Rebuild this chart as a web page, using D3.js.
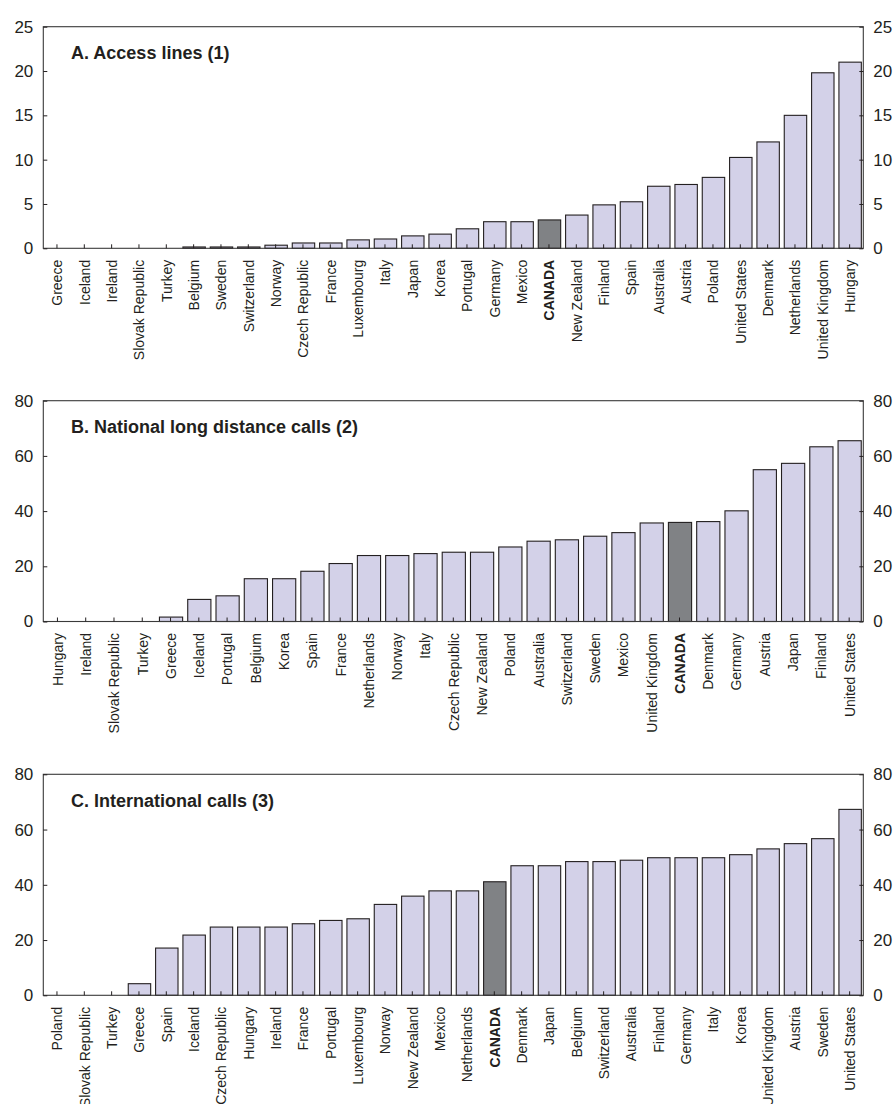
<!DOCTYPE html>
<html>
<head>
<meta charset="utf-8">
<script src="https://cdn.jsdelivr.net/npm/d3@7"></script>
<style>
  html, body { margin: 0; padding: 0; background: #fff; }
  svg { display: block; font-family: "Liberation Sans", Arial, sans-serif; }
</style>
</head>
<body>
<svg id="chart" width="896" height="1104"></svg>
<script>
// Panel A: access lines
const accessCountries = ["Greece","Iceland","Ireland","Slovak Republic","Turkey","Belgium","Sweden","Switzerland","Norway","Czech Republic","France","Luxembourg","Italy","Japan","Korea","Portugal","Germany","Mexico","CANADA","New Zealand","Finland","Spain","Australia","Austria","Poland","United States","Denmark","Netherlands","United Kingdom","Hungary"];
const accessValues = [0,0,0,0,0,0.15,0.15,0.15,0.35,0.6,0.6,0.95,1.05,1.4,1.6,2.2,3.0,3.0,3.2,3.75,4.9,5.25,7.0,7.2,8.0,10.25,12.0,15.0,19.8,21.0];
const accessTicks = [0,5,10,15,20,25];

// Panel B: national long distance calls
const nationalCountries = ["Hungary","Ireland","Slovak Republic","Turkey","Greece","Iceland","Portugal","Belgium","Korea","Spain","France","Netherlands","Norway","Italy","Czech Republic","New Zealand","Poland","Australia","Switzerland","Sweden","Mexico","United Kingdom","CANADA","Denmark","Germany","Austria","Japan","Finland","United States"];
const nationalValues = [0,0,0,0,1.6,8.0,9.3,15.5,15.5,18.2,21.0,23.9,23.9,24.6,25.1,25.1,27.0,29.1,29.6,30.9,32.2,35.7,35.9,36.2,40.1,55.0,57.3,63.3,65.5];
const nationalTicks = [0,20,40,60,80];

// Panel C: international calls
const internationalCountries = ["Poland","Slovak Republic","Turkey","Greece","Spain","Iceland","Czech Republic","Hungary","Ireland","France","Portugal","Luxembourg","Norway","New Zealand","Mexico","Netherlands","CANADA","Denmark","Japan","Belgium","Switzerland","Australia","Finland","Germany","Italy","Korea","United Kingdom","Austria","Sweden","United States"];
const internationalValues = [0,0,0,4.2,17.1,21.8,24.7,24.7,24.7,25.9,27.1,27.7,32.9,35.9,37.8,37.8,41.1,46.9,46.9,48.4,48.4,48.9,49.8,49.8,49.8,50.9,53.0,54.9,56.7,67.3];
const internationalTicks = [0,20,40,60,80];

const panelTitles = ["A. Access lines (1)", "B. National long distance calls (2)", "C. International calls (3)"];
const highlight = "CANADA";

const panels = [
  { title: panelTitles[0], countries: accessCountries, values: accessValues, ticks: accessTicks, top: 26.7, bottom: 248.3 },
  { title: panelTitles[1], countries: nationalCountries, values: nationalValues, ticks: nationalTicks, top: 400.7, bottom: 621.5 },
  { title: panelTitles[2], countries: internationalCountries, values: internationalValues, ticks: internationalTicks, top: 774.3, bottom: 995.3 }
];

const left = 43.3, right = 863.3;
const ink = "#231f20";
const svg = d3.select("#chart");

panels.forEach(p => {
  const g = svg.append("g");
  const x = d3.scaleBand().domain(p.countries).range([left, right]).paddingInner(0.18).paddingOuter(0.09);
  const y = d3.scaleLinear().domain([0, d3.max(p.ticks)]).range([p.bottom, p.top]);
  const data = p.countries.map((c, i) => ({ c, v: p.values[i] }));

  // bars
  g.selectAll("rect.bar").data(data.filter(d => d.v > 0)).join("rect")
    .attr("class", "bar")
    .attr("x", d => x(d.c) + 0.5)
    .attr("width", x.bandwidth())
    .attr("y", d => y(d.v))
    .attr("height", d => y(0) - y(d.v))
    .attr("fill", d => d.c === highlight ? "#808285" : "#d3d1e8")
    .attr("stroke", ink)
    .attr("stroke-width", 1.1);

  // frame
  g.append("rect")
    .attr("x", left).attr("y", p.top)
    .attr("width", right - left).attr("height", p.bottom - p.top)
    .attr("fill", "none").attr("stroke", "#3a3a3a").attr("stroke-width", 1.1);

  // inward tick marks on the baseline
  const xAxis = d3.axisBottom(x).tickSize(-4).tickFormat("");
  g.append("g").attr("transform", `translate(0,${p.bottom})`).call(xAxis)
    .call(a => a.select(".domain").remove())
    .call(a => a.selectAll("line").attr("stroke", ink).attr("stroke-width", 1));

  // left and right value axes
  const yl = d3.axisLeft(y).tickValues(p.ticks).tickSize(-4).tickPadding(10);
  const yr = d3.axisRight(y).tickValues(p.ticks).tickSize(-4).tickPadding(10);
  [[yl, left], [yr, right]].forEach(([ax, px]) => {
    g.append("g").attr("transform", `translate(${px},0)`).call(ax)
      .call(a => a.select(".domain").remove())
      .call(a => a.selectAll("line").attr("stroke", ink))
      .call(a => a.selectAll("text").attr("fill", ink).attr("font-size", 17)
        .attr("font-family", '"Liberation Sans", Arial, sans-serif'));
  });

  // rotated category labels
  g.selectAll("text.cat").data(p.countries).join("text")
    .attr("class", "cat")
    .attr("transform", c => `translate(${x(c) + x.bandwidth() / 2 + 0.5},${p.bottom + 11.5}) rotate(-90)`)
    .attr("text-anchor", "end")
    .attr("dy", "0.35em")
    .attr("font-size", 14)
    .attr("font-weight", c => c === highlight ? "bold" : "normal")
    .attr("fill", ink)
    .text(c => c);

  // panel title
  g.append("text")
    .attr("x", 71).attr("y", p.top + 32.5)
    .attr("font-size", 18).attr("font-weight", "bold").attr("fill", ink)
    .text(p.title);
});
</script>
</body>
</html>
